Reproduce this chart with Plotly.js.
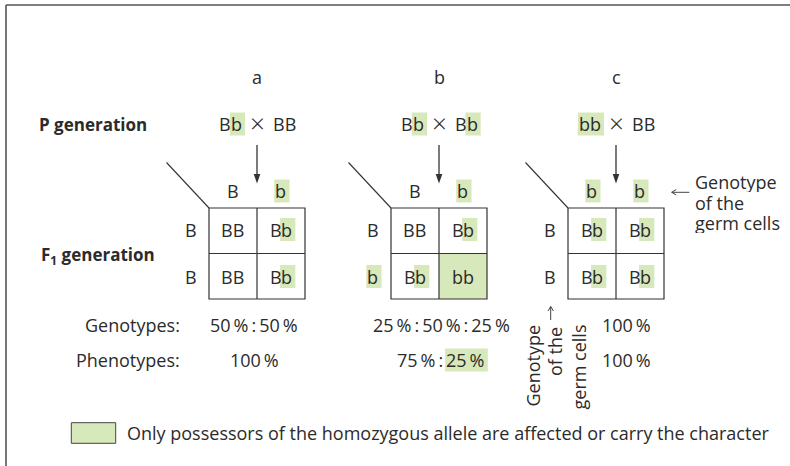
<!DOCTYPE html>
<html><head><meta charset="utf-8">
<script src="https://cdn.plot.ly/plotly-3.0.1.min.js"></script>
<style>html,body{margin:0;padding:0;background:#fff}</style>
</head><body>
<div id="chart" style="width:790px;height:466px"></div>
<script>
// ---- data (square brackets mark the highlighted, recessive part) ----
const crossLabels = ['a', 'b', 'c'];
const parentsLeft = ['B[b]', 'B[b]', '[bb]'];
const parentsRight = ['BB', 'B[b]', 'BB'];
const gametesTop = [['B', '[b]'], ['B', '[b]'], ['[b]', '[b]']];
const gametesSide = [['B', 'B'], ['B', '[b]'], ['B', 'B']];
const offspring = [
  [['BB', 'B[b]'], ['BB', 'B[b]']],
  [['BB', 'B[b]'], ['B[b]', 'bb']],
  [['B[b]', 'B[b]'], ['B[b]', 'B[b]']]
];
const affected = [
  [[false, false], [false, false]],
  [[false, false], [false, true]],
  [[false, false], [false, false]]
];
const genotypeRatios = ['50\u2009%\u2009:\u200950\u2009%', '25\u2009%\u2009:\u200950\u2009%\u2009:\u200925\u2009%', '100\u2009%'];
const phenotypeRatios = ['100\u2009%', '75\u2009%\u2009:\u2009[25\u2009%]', '100\u2009%'];
const rowTitles = ['P generation', 'F<sub>1</sub> generation'];
const ratioLabels = ['Genotypes:', 'Phenotypes:'];
const germNote = ['Genotype', 'of the', 'germ cells'];
const legendText = 'Only possessors of the homozygous allele are affected or carry the character';

// ---- styling / layout constants ----
const FONT = 'Open Sans';
const SIZE = 18;
const INK = '#2b2b2b';
const HL = '#d7e8ba';
const LINE = '#333333';
const PADL = 1.2, PADR = 3, HH = 23;
const gridLeft = [209, 391, 568];
const CW = 48, CH = 45.5, GT = 208;
const rowY = [229.5, 276.5];
const ratioX = [254, 441, 626];

const ctx = document.createElement('canvas').getContext('2d');
function tw(s, size, bold) {
  ctx.font = (bold ? 'bold ' : '') + size + 'px "' + FONT + '"';
  return ctx.measureText(s).width;
}
function parse(str) {
  const out = []; const re = /\[([^\]]*)\]|([^\[]+)/g; let m;
  while ((m = re.exec(str))) out.push(m[1] !== undefined ? {t: m[1], hl: true} : {t: m[2], hl: false});
  return out;
}
const annotations = [], shapes = [];
function put(str, x, y, anchor, o) {
  o = o || {};
  const size = o.size || SIZE;
  const segs = parse(str);
  const plain = segs.map(s => s.t).join('');
  const W = tw(plain, size, o.bold);
  const x0 = anchor === 'left' ? x : anchor === 'right' ? x - W : x - W / 2;
  let prefix = '';
  segs.forEach(s => {
    const lead = s.t.match(/^\s*/)[0];
    const trimmed = s.t.trim();
    const sx = x0 + tw(prefix + lead, size, o.bold);
    const w = tw(trimmed, size, o.bold);
    if (trimmed) {
      if (s.hl) shapes.push({type: 'rect', xref: 'x', yref: 'y', x0: sx - PADL, x1: sx + w + PADR,
        y0: y - HH / 2, y1: y + HH / 2, fillcolor: HL, line: {width: 0}, layer: 'below'});
      annotations.push({x: sx, y: y, xref: 'x', yref: 'y', xanchor: 'left', yanchor: 'middle',
        text: trimmed, showarrow: false, borderpad: 0, borderwidth: 0,
        font: {family: FONT, size: size, color: INK, weight: o.bold ? 'bold' : 'normal'}});
    }
    prefix += s.t;
  });
}
function plainText(text, x, y, xanchor, o) {
  o = o || {};
  annotations.push(Object.assign({x: x, y: y, xref: 'x', yref: 'y', xanchor: xanchor, yanchor: 'middle',
    text: text, showarrow: false, borderpad: 0, borderwidth: 0,
    font: {family: o.family || FONT, size: o.size || SIZE, color: INK, weight: o.weight || (o.bold ? 'bold' : 'normal')}}, o.extra || {}));
}
function line(x0, y0, x1, y1, w, c) {
  shapes.push({type: 'line', xref: 'x', yref: 'y', x0, y0, x1, y1, line: {color: c || LINE, width: w || 1.2}, layer: 'below'});
}

// frame
line(6, 5, 790, 5, 1.6, '#555');
line(6, 5, 6, 466, 1.6, '#555');

// row titles
plainText(rowTitles[0], 39, 124, 'left', {bold: true, size: 17});
plainText(rowTitles[1], 41, 255, 'left', {bold: true, size: 17});

crossLabels.forEach((lab, i) => {
  const L = gridLeft[i];
  const cx = L + CW;
  plainText(lab, cx, 77, 'center');
  // cross
  put(parentsLeft[i], cx - 15, 124, 'right');
  plainText('\u00d7', cx, 122.5, 'center', {size: 26, weight: 300});
  put(parentsRight[i], cx + 16, 124, 'left');
  // arrow
  line(cx, 145, cx, 176, 1.3);
  shapes.push({type: 'path', xref: 'x', yref: 'y', path: `M${cx - 3.3},174 L${cx + 3.3},174 L${cx},183.5 Z`,
    fillcolor: LINE, line: {width: 0}, layer: 'below'});
  // diagonal
  line(L - 42.5, 162.5, L, GT, 1.1);
  // cells
  for (let r = 0; r < 2; r++) for (let c = 0; c < 2; c++) {
    if (affected[i][r][c]) shapes.push({type: 'rect', xref: 'x', yref: 'y', x0: L + c * CW, x1: L + (c + 1) * CW,
      y0: GT + r * CH, y1: GT + (r + 1) * CH, fillcolor: HL, line: {width: 0}, layer: 'below'});
  }
  shapes.push({type: 'rect', xref: 'x', yref: 'y', x0: L, x1: L + 2 * CW, y0: GT, y1: GT + 2 * CH,
    line: {color: LINE, width: 1.2}, layer: 'below'});
  line(L + CW, GT, L + CW, GT + 2 * CH, 1.2);
  line(L, GT + CH, L + 2 * CW, GT + CH, 1.2);
  // gametes
  gametesTop[i].forEach((g, c) => put(g, L + CW / 2 + c * CW, 191, 'center'));
  gametesSide[i].forEach((g, r) => put(g, L - 18, rowY[r], 'center'));
  offspring[i].forEach((row, r) => row.forEach((g, c) => put(g, L + CW / 2 + c * CW, rowY[r], 'center')));
  // ratios
  put(genotypeRatios[i], ratioX[i], 325, 'center');
  put(phenotypeRatios[i], ratioX[i], 360, 'center');
});

put(ratioLabels[0], 180, 325, 'right');
put(ratioLabels[1], 180, 360, 'right');

// germ cell note (right) with a thin open arrow
line(671.7, 192.3, 689.3, 192.3, 1, '#444');
line(671.7, 192.3, 676.2, 189.6, 1, '#444');
line(671.7, 192.3, 676.2, 195.0, 1, '#444');
germNote.forEach((t, k) => plainText(t, 695, 182 + k * 20.5, 'left', {extra: {height: 20}}));
// vertical note (reads bottom to top) with a thin open arrow
const vx = [532.5, 554.5, 578.5], vy = [366, 351.5, 367];
germNote.forEach((t, k) => plainText(t, vx[k], vy[k], 'center', {extra: {textangle: -90}}));
line(550.7, 320, 550.7, 306.5, 1, '#444');
line(550.7, 306.5, 548, 311, 1, '#444');
line(550.7, 306.5, 553.4, 311, 1, '#444');

// legend
shapes.push({type: 'rect', xref: 'x', yref: 'y', x0: 71.3, x1: 115.7, y0: 422.7, y1: 443.3,
  fillcolor: HL, line: {color: '#444', width: 1}, layer: 'below'});
plainText(legendText, 126.5, 433, 'left');

Plotly.newPlot('chart', [{x: [0], y: [0], mode: 'markers', marker: {opacity: 0}, hoverinfo: 'skip', showlegend: false}], {
  width: 790, height: 466,
  margin: {l: 0, r: 0, t: 0, b: 0},
  paper_bgcolor: '#fff', plot_bgcolor: 'rgba(0,0,0,0)',
  xaxis: {range: [0, 790], visible: false, fixedrange: true},
  yaxis: {range: [466, 0], visible: false, fixedrange: true},
  showlegend: false,
  shapes: shapes,
  annotations: annotations
}, {staticPlot: true});
</script>
</body></html>
